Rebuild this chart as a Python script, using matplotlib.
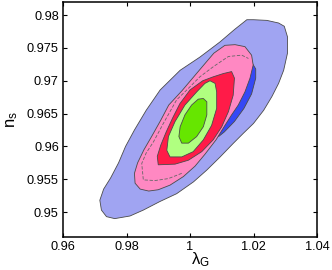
import numpy as np
import matplotlib
matplotlib.use("Agg")
import matplotlib.pyplot as plt

plt.rcParams['font.family'] = ['Liberation Sans', 'DejaVu Sans']
plt.rcParams['mathtext.fontset'] = 'custom'
plt.rcParams['mathtext.rm'] = 'Liberation Sans'
plt.rcParams['mathtext.it'] = 'Liberation Sans'

# contour outlines (lambda_G, n_s)
outer_lam = [1.0179, 1.0140, 1.0094, 1.0031, 0.9969, 0.9906, 0.9862, 0.9825, 0.9797, 0.9775,
             0.9750, 0.9728, 0.9716, 0.9721, 0.9737, 0.9763, 0.9811, 0.9853, 0.9905, 0.9958,
             1.0011, 1.0053, 1.0095, 1.0137, 1.0168, 1.0200, 1.0232, 1.0258, 1.0279, 1.0295,
             1.0307, 1.0307, 1.0297, 1.0279, 1.0242, 1.0200]
outer_ns = [0.9793, 0.9778, 0.9759, 0.9736, 0.9716, 0.9686, 0.9655, 0.9625, 0.9600, 0.9575,
            0.9552, 0.9535, 0.9518, 0.9503, 0.9493, 0.9490, 0.9494, 0.9503, 0.9516, 0.9528,
            0.9546, 0.9564, 0.9584, 0.9605, 0.9620, 0.9635, 0.9655, 0.9676, 0.9696, 0.9716,
            0.9742, 0.9767, 0.9783, 0.9788, 0.9792, 0.9793]

sliver_lam = [1.0190, 1.0197, 1.0207, 1.0207, 1.0194, 1.0170, 1.0140, 1.0108, 1.0090,
              1.0080, 1.0150, 1.0185]
sliver_ns = [0.9735, 0.9726, 0.9718, 0.9704, 0.9680, 0.9658, 0.9638, 0.9622, 0.9615,
             0.9625, 0.9690, 0.9730]

pink_lam = [1.0110, 1.0142, 1.0173, 1.0194, 1.0199, 1.0189, 1.0173, 1.0152, 1.0131, 1.0110,
            1.0082, 1.0047, 1.0016, 0.9979, 0.9937, 0.9900, 0.9870, 0.9843, 0.9827, 0.9825,
            0.9835, 0.9855, 0.9879, 0.9908, 0.9933, 0.9975, 1.0010, 1.0045, 1.0075]
pink_ns = [0.9754, 0.9755, 0.9752, 0.9739, 0.9724, 0.9704, 0.9683, 0.9663, 0.9648, 0.9632,
           0.9610, 0.9588, 0.9570, 0.9554, 0.9541, 0.9534, 0.9532, 0.9535, 0.9544, 0.9559,
           0.9575, 0.9595, 0.9615, 0.9640, 0.9663, 0.9685, 0.9705, 0.9725, 0.9742]

dash_lam = [0.9974, 0.9932, 0.9890, 0.9853, 0.9848, 0.9862, 0.9885, 0.9916, 0.9937, 0.9958,
            0.9990, 1.0031, 1.0075, 1.0121, 1.0163, 1.0184]
dash_ns = [0.9559, 0.9551, 0.9548, 0.9549, 0.9574, 0.9590, 0.9607, 0.9635, 0.9653, 0.9671,
           0.9686, 0.9706, 0.9722, 0.9737, 0.9739, 0.9734]

red_lam = [1.0105, 1.0131, 1.0140, 1.0136, 1.0121, 1.0100, 1.0073, 1.0037, 0.9995, 0.9953,
           0.9900, 0.9897, 0.9908, 0.9925, 0.9945, 0.9968, 1.0000, 1.0040, 1.0073]
red_ns = [0.9711, 0.9714, 0.9704, 0.9678, 0.9653, 0.9630, 0.9610, 0.9592, 0.9579, 0.9573,
          0.9572, 0.9585, 0.9602, 0.9622, 0.9643, 0.9665, 0.9686, 0.9700, 0.9706]

lgreen_lam = [1.0063, 1.0079, 1.0084, 1.0084, 1.0068, 1.0042, 1.0010, 0.9974, 0.9937, 0.9927,
              0.9932, 0.9953, 0.9984, 1.0021, 1.0047]
lgreen_ns = [0.9700, 0.9696, 0.9683, 0.9658, 0.9632, 0.9610, 0.9592, 0.9584, 0.9584, 0.9594,
             0.9615, 0.9638, 0.9663, 0.9683, 0.9696]

green_lam = [1.0042, 1.0053, 1.0053, 1.0042, 1.0021, 0.9995, 0.9974, 0.9965, 0.9969, 0.9984,
             1.0005, 1.0026]
green_ns = [0.9673, 0.9668, 0.9648, 0.9630, 0.9615, 0.9605, 0.9605, 0.9615, 0.9630, 0.9648,
            0.9663, 0.9672]

xticks = [0.96, 0.98, 1.00, 1.02, 1.04]
xtick_labels = ['0.96', '0.98', '1', '1.02', '1.04']
yticks = [0.95, 0.955, 0.96, 0.965, 0.97, 0.975, 0.98]
ytick_labels = ['0.95', '0.955', '0.96', '0.965', '0.97', '0.975', '0.98']

fig = plt.figure(figsize=(3.32, 2.70), dpi=100)
ax = fig.add_axes([63/332, 1 - 237/270, 254/332, 235/270])

edge = '#4a4a4a'
ax.fill(outer_lam, outer_ns, facecolor='#a0a4f2', edgecolor=edge, linewidth=0.6)
ax.fill(sliver_lam, sliver_ns, facecolor='#3548f5', edgecolor=edge, linewidth=0.6)
ax.fill(pink_lam, pink_ns, facecolor='#ff88c2', edgecolor=edge, linewidth=0.6)
ax.plot(dash_lam, dash_ns, color='#666666', linewidth=0.6, dashes=(4, 2))
ax.fill(red_lam, red_ns, facecolor='#ff1b48', edgecolor=edge, linewidth=0.6)
ax.fill(lgreen_lam, lgreen_ns, facecolor='#b0ff80', edgecolor=edge, linewidth=0.6)
ax.fill(green_lam, green_ns, facecolor='#66e600', edgecolor=edge, linewidth=0.6)

ax.set_xlim(0.96, 1.04)
ax.set_ylim(0.9462, 0.9820)
ax.set_xticks(xticks)
ax.set_xticklabels(xtick_labels)
ax.set_yticks(yticks)
ax.set_yticklabels(ytick_labels)
ax.tick_params(direction='in', length=3, width=0.8, top=True, right=True,
               labelsize=9.2, pad=3)
for sp in ax.spines.values():
    sp.set_linewidth(1.1)

ax.set_xlabel(r'$\lambda_G$', fontsize=12, labelpad=-2, x=0.54)
ax.set_ylabel(r'$n_s$', fontsize=12, labelpad=5)

fig.savefig('out.png', dpi=100)
